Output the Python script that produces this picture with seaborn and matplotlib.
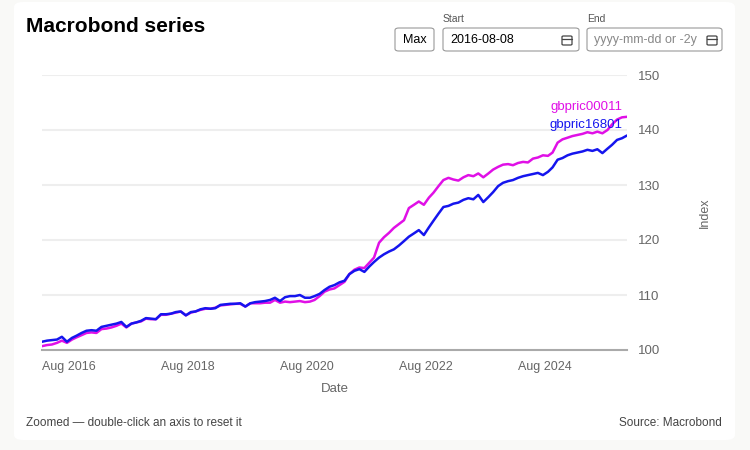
import pandas as pd
import matplotlib
matplotlib.use("Agg")
import matplotlib.pyplot as plt
import matplotlib.dates as mdates
from matplotlib.patches import FancyBboxPatch
from matplotlib.transforms import offset_copy
import seaborn as sns

# monthly readings, Aug 2016 onwards
inicio = "2016-08-01"
gbpric16801 = [
    101.5, 101.7, 101.8, 101.9, 102.4, 101.5, 102.2, 102.6, 103.1, 103.5,
    103.6, 103.5, 104.2, 104.4, 104.6, 104.8, 105.1, 104.2, 104.8, 105.0,
    105.3, 105.8, 105.7, 105.6, 106.5, 106.5, 106.6, 106.9, 107.0, 106.3,
    106.9, 107.0, 107.4, 107.6, 107.5, 107.6, 108.2, 108.3, 108.4, 108.4,
    108.5, 107.9, 108.5, 108.7, 108.8, 108.9, 109.1, 109.5, 108.9, 109.6,
    109.8, 109.8, 110.0, 109.5, 109.5, 109.8, 110.2, 110.9, 111.5, 111.8,
    112.3, 112.6, 113.8, 114.4, 114.7, 114.2, 115.2, 116.0, 116.8, 117.4,
    117.9, 118.3, 119.0, 119.8, 120.6, 121.2, 121.8, 120.9, 122.3, 123.5,
    124.8, 126.0, 126.2, 126.6, 126.8, 127.3, 127.6, 127.4, 128.2, 126.9,
    127.8, 128.7, 129.8, 130.4, 130.7, 130.9, 131.3, 131.6, 131.8, 132.0,
    132.2, 131.8, 132.4, 133.2, 134.6, 134.9, 135.4, 135.7, 135.9, 136.1,
    136.4, 136.2, 136.5, 135.8, 136.6, 137.3, 138.2, 138.5, 139.0,
]
gbpric00011 = [
    100.7, 100.9, 101.0, 101.3, 101.7, 101.3, 101.9, 102.3, 102.7, 103.1,
    103.2, 103.1, 103.8, 103.9, 104.1, 104.4, 104.8, 104.1, 104.8, 105.0,
    105.2, 105.7, 105.6, 105.6, 106.4, 106.4, 106.6, 106.8, 107.0, 106.3,
    106.8, 107.0, 107.3, 107.5, 107.5, 107.7, 108.1, 108.2, 108.3, 108.4,
    108.4, 107.9, 108.5, 108.5, 108.5, 108.6, 108.6, 109.1, 108.6, 108.8,
    108.7, 108.8, 108.9, 108.7, 108.8, 109.1, 109.8, 110.6, 111.0, 111.2,
    111.8, 112.4, 113.8, 114.6, 115.0, 114.9, 115.9, 116.8, 119.5, 120.5,
    121.3, 122.2, 122.9, 123.6, 125.8, 126.4, 127.0, 126.4, 127.7, 128.6,
    129.8, 130.9, 131.3, 131.0, 130.8, 131.4, 131.8, 131.6, 132.1, 131.4,
    132.1, 132.8, 133.3, 133.7, 133.8, 133.6, 134.0, 134.2, 134.1, 134.8,
    135.0, 135.4, 135.3, 135.9, 137.7, 138.3, 138.6, 138.9, 139.1, 139.3,
    139.6, 139.4, 139.7, 139.4, 140.0, 141.0, 141.9, 142.3, 142.4,
]
series = ["gbpric00011", "gbpric16801"]
cores = {"gbpric00011": "#e010e6", "gbpric16801": "#1515ee"}
y_ticks = [100, 110, 120, 130, 140, 150]
x_ticks = ["2016-08-01", "2018-08-01", "2020-08-01", "2022-08-01", "2024-08-01"]

datas = pd.date_range(inicio, periods=len(gbpric16801), freq="MS")
df = pd.concat([
    pd.DataFrame({"Date": datas, "Index": gbpric00011, "Serie": "gbpric00011"}),
    pd.DataFrame({"Date": datas, "Index": gbpric16801, "Serie": "gbpric16801"}),
])

sns.set_theme(style="white")
plt.rcParams["font.family"] = ["Liberation Sans", "DejaVu Sans"]

W, H = 750, 450
fig = plt.figure(figsize=(7.5, 4.5), dpi=100)
fig.patch.set_facecolor("#f9f9f7")

def px(x, y):
    return x / W, 1 - y / H

# white card behind everything
card = FancyBboxPatch(px(14, 440), 721 / W, 438 / H, boxstyle="round,pad=0,rounding_size=0.012",
                      transform=fig.transFigure, facecolor="white", edgecolor="none", zorder=-10)
fig.patches.append(card)

ax = fig.add_axes([42 / W, 1 - 350 / H, 585 / W, 275 / H])
ax.set_facecolor("none")
sns.lineplot(data=df, x="Date", y="Index", hue="Serie", hue_order=series, palette=cores,
             linewidth=1.8, legend=False, ax=ax)

ax.set_ylim(100, 150)
ax.set_xlim(datas[0], datas[-1])
ax.set_yticks(y_ticks)
ax.yaxis.tick_right()
ax.yaxis.set_label_position("right")
ax.set_xticks(pd.to_datetime(x_ticks))
ax.xaxis.set_major_formatter(mdates.DateFormatter("%b %Y"))
for t in ax.get_xticklabels():
    t.set_horizontalalignment("left")
ax.tick_params(axis="x", colors="#666666", labelsize=9, length=5, width=1, color="#aaaaaa", pad=3)
ax.tick_params(axis="y", colors="#666666", labelsize=9.5, length=0, pad=8)
for v in y_ticks[1:]:
    ax.axhline(v, color="#eeeeee", linewidth=1.5, zorder=0)
for s in ["top", "left", "right"]:
    ax.spines[s].set_visible(False)
ax.spines["bottom"].set_color("#aaaaaa")
ax.spines["bottom"].set_linewidth(1.5)
ax.set_xlabel("Date", color="#666666", fontsize=9.5, labelpad=7)
ax.set_ylabel("Index", color="#666666", fontsize=9, labelpad=28)

# series labels at the line ends
lbl = offset_copy(ax.transData, fig=fig, x=-3, y=0, units="points")
ax.text(datas[-1], 144.2, "gbpric00011", color=cores["gbpric00011"], fontsize=9.5,
        ha="right", va="center", transform=lbl)
ax.text(datas[-1], 140.9, "gbpric16801", color=cores["gbpric16801"], fontsize=9.5,
        ha="right", va="center", transform=lbl)

# header
fig.text(*px(26, 27), "Macrobond series", fontsize=15, fontweight="bold", color="black", va="center")
fig.text(*px(443, 19), "Start", fontsize=7.5, color="#555555", va="center")
fig.text(*px(587, 19), "End", fontsize=7.5, color="#555555", va="center")

def caixa(x0, y0, x1, y1):
    b = FancyBboxPatch(px(x0, y1), (x1 - x0) / W, (y1 - y0) / H,
                       boxstyle="round,pad=0,rounding_size=0.005", transform=fig.transFigure,
                       facecolor="white", edgecolor="#999999", linewidth=0.8)
    fig.patches.append(b)

caixa(395, 28, 434, 51)
caixa(443, 28, 579, 51)
caixa(587, 28, 722, 51)
fig.text(*px(414.5, 40), "Max", fontsize=9, color="black", ha="center", va="center")
fig.text(*px(450, 40), "2016-08-08", fontsize=9, color="black", va="center")
fig.text(*px(594, 40), "yyyy-mm-dd or -2y", fontsize=9, color="#888888", va="center")
for cx in (567, 712):
    cal = FancyBboxPatch(px(cx - 5, 45), 10 / W, 9 / H, boxstyle="round,pad=0,rounding_size=0.002",
                         transform=fig.transFigure, facecolor="none", edgecolor="#444444", linewidth=0.9)
    fig.patches.append(cal)
    fig.lines.append(plt.Line2D([(cx - 5) / W, (cx + 5) / W], [1 - 39 / H, 1 - 39 / H],
                                transform=fig.transFigure, color="#444444", linewidth=0.9))

# footer
fig.text(*px(26, 423), "Zoomed \u2014 double-click an axis to reset it", fontsize=8.5, color="#444444", va="center")
fig.text(*px(722, 423), "Source: Macrobond", fontsize=8.5, color="#444444", va="center", ha="right")

fig.savefig("out.png", dpi=100, facecolor=fig.get_facecolor())
